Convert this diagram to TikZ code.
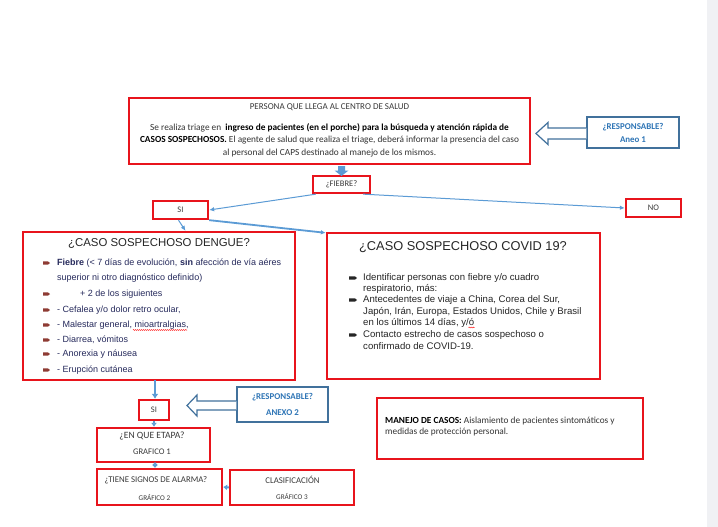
\documentclass[tikz,border=0pt]{standalone}
\usepackage{fontspec}
\setmainfont{Carlito}
\newfontfamily\arial{Liberation Sans}
\usetikzlibrary{arrows.meta,decorations.pathmorphing}
\definecolor{redb}{HTML}{E8141C}
\definecolor{bluel}{HTML}{5B9BD5}
\definecolor{blueo}{HTML}{41719C}
\definecolor{bluet}{HTML}{2E75B6}
\definecolor{navy}{HTML}{262A5C}
\definecolor{bulletred}{HTML}{8E3B34}
\definecolor{stripgray}{HTML}{F0F1F4}
\definecolor{txt}{HTML}{3A3A3A}
\begin{document}
\begin{tikzpicture}[x=1pt,y=-1pt,
  redbox/.style={draw=redb,line width=2.3pt,inner sep=0pt,fill=white},
  bluebox/.style={draw=blueo,line width=1.2pt,inner sep=0pt,fill=white},
  blockarrow/.style={draw=blueo,line width=1.2pt,fill=white,line join=miter},
  conn/.style={draw=bluel,line width=1pt,-{Latex[length=5pt,width=4.5pt]}},
  thickconn/.style={draw=bluel,line width=2.4pt,-{Latex[length=5pt,width=7pt]}},
  smalltxt/.style={inner sep=0pt,text=txt,font=\fontsize{8.5}{9}\selectfont},
  resp/.style={inner sep=0pt,text=bluet,font=\bfseries\fontsize{8.9}{10}\selectfont},
  dline/.style={inner sep=0pt,anchor=west,text=navy,font=\arial\fontsize{9}{10}\selectfont,text height=0.72em,text depth=0.2em},
  cline/.style={inner sep=0pt,anchor=west,text=black!85,font=\arial\fontsize{9.6}{10}\selectfont,text height=0.72em,text depth=0.2em},
  squiggle/.style={draw=red,line width=0.5pt,decorate,decoration={snake,amplitude=0.5pt,segment length=2pt}}
]
\useasboundingbox (0,0) rectangle (718,527);
\fill[white] (0,0) rectangle (718,527);
\fill[stripgray] (707,0) rectangle (718,527);

% ---- top box ----
\node[redbox,minimum width=401pt,minimum height=66pt] (top) at (329.5,131) {};
\node[smalltxt,font=\fontsize{9}{10}\selectfont] (toptitle) at (329.5,107) {PERSONA QUE LLEGA AL CENTRO DE SALUD};
\node[inner sep=0pt,align=center,text=black!80,font=\fontsize{9.3}{12.5}\selectfont] (topbody) at (329.5,140)
 {Se realiza triage en \ \textbf{\color{black}ingreso de pacientes (en el porche) para la búsqueda y atención rápida de}\\
  \textbf{\color{black}CASOS SOSPECHOSOS.} El agente de salud que realiza el triage, deberá informar la presencia del caso\\
  al personal del CAPS destinado al manejo de los mismos.};

% ---- responsable anexo 1 ----
\node[bluebox,minimum width=92pt,minimum height=31pt] (resp1) at (633,132.5) {};
\node[resp,align=center,font=\bfseries\fontsize{8.9}{13}\selectfont] (resp1t) at (resp1.center) {¿RESPONSABLE?\\Aneo 1};
\draw[blockarrow] (resp1.west |- 0,128) -- (548,128) -- (548,122.5) -- (536,133.5) -- (548,144.5) -- (548,139) -- (resp1.west |- 0,139);

% ---- fiebre ----
\node[redbox,minimum width=57pt,minimum height=17pt,smalltxt] (fiebre) at (341.5,184.5) {¿FIEBRE?};
\fill[bluel] (338,166) -- (345,166) -- (345,170.5) -- (348.5,170.5) -- (341.5,176) -- (334.5,170.5) -- (338,170.5) -- cycle;

% ---- si / no ----
\node[redbox,minimum width=55pt,minimum height=18pt,smalltxt] (si1) at (180.5,210) {SI};
\node[redbox,minimum width=55pt,minimum height=18pt,smalltxt] (no) at (653.5,208) {NO};

% ---- dengue ----
\node[redbox,minimum width=272pt,minimum height=148pt] (dengue) at (159,306) {};
\node[inner sep=0pt,text=black!85,font=\arial\fontsize{11.4}{13}\selectfont] (dtitle) at (159,243) {¿CASO SOSPECHOSO DENGUE?};
\foreach \yy in {263,294,310,325,340,354,370}{
  \fill[bulletred] (43,\yy-1.6) -- (48,\yy-1.6) -- (50,\yy) -- (48,\yy+1.6) -- (43,\yy+1.6) -- cycle;
}
\node[dline] (d1) at (57,263) {\textbf{Fiebre} (< 7 días de evolución, \textbf{sin} afección de vía aéres};
\node[dline] (d2) at (57,278) {superior ni otro diagnóstico definido)};
\node[dline] (d3) at (80,294) {+ 2 de los siguientes};
\node[dline] (d4) at (57,310) {- Cefalea y/o dolor retro ocular,};
\node[dline] (d5) at (57,325) {- Malestar general, mioartralgias,};
\node[dline] (d6) at (57,340) {- Diarrea, vómitos};
\node[dline] (d7) at (57,354) {- Anorexia y náusea};
\node[dline] (d8) at (57,370) {- Erupción cutánea};
\draw[squiggle] (133,330) -- (187,330);

% ---- covid ----
\node[redbox,minimum width=273pt,minimum height=146pt] (covid) at (463.5,306) {};
\node[inner sep=0pt,text=black!85,font=\arial\fontsize{12.8}{14}\selectfont] (ctitle) at (463,247) {¿CASO SOSPECHOSO COVID 19?};
\foreach \yy in {278,300,335}{
  \fill[black!85] (349,\yy-1.6) -- (355,\yy-1.6) -- (357,\yy) -- (355,\yy+1.6) -- (349,\yy+1.6) -- cycle;
}
\node[cline] (c1) at (363,278) {Identificar personas con fiebre y/o cuadro};
\node[cline] (c2) at (363,288.5) {respiratorio, más:};
\node[cline] (c3) at (363,300) {Antecedentes de viaje a China, Corea del Sur,};
\node[cline] (c4) at (363,311.5) {Japón, Irán, Europa, Estados Unidos, Chile y Brasil};
\node[cline] (c5) at (363,322.5) {en los últimos 14 días, y/ó};
\node[cline] (c6) at (363,335) {Contacto estrecho de casos sospechoso o};
\node[cline] (c7) at (363,347) {confirmado de COVID-19.};
\draw[squiggle] (468.5,327.5) -- (474.5,327.5);

% ---- lower left chain ----
\node[redbox,minimum width=30pt,minimum height=20pt,smalltxt] (si2) at (154,410) {SI};
\node[bluebox,minimum width=91pt,minimum height=35pt] (resp2) at (282.5,404.5) {};
\node[resp,align=center,font=\bfseries\fontsize{8.9}{16}\selectfont] (resp2t) at (resp2.center) {¿RESPONSABLE?\\ANEXO 2};
\draw[blockarrow] (resp2.west |- 0,401) -- (197,401) -- (197,395) -- (187,405.5) -- (197,416) -- (197,410) -- (resp2.west |- 0,410);

\node[redbox,minimum width=113pt,minimum height=34pt] (etapa) at (153.5,445) {};
\node[smalltxt,font=\fontsize{9.6}{10}\selectfont] (etapa1) at (152,436) {¿EN QUE ETAPA?};
\node[smalltxt,font=\fontsize{8.6}{10}\selectfont] (etapa2) at (152,451.5) {GRAFICO 1};
\node[redbox,minimum width=125pt,minimum height=36pt] (signos) at (159.5,487) {};
\node[smalltxt,font=\fontsize{8.8}{10}\selectfont] (signos1) at (156,480) {¿TIENE SIGNOS DE ALARMA?};
\node[smalltxt,font=\fontsize{7.2}{10}\selectfont] (signos2) at (154.5,497.5) {GRÁFICO 2};
\node[redbox,minimum width=124pt,minimum height=35pt] (clasif) at (292,487.5) {};
\node[smalltxt,font=\fontsize{8.8}{10}\selectfont] (clasif1) at (292.5,479.5) {CLASIFICACIÓN};
\node[smalltxt,font=\fontsize{7.2}{10}\selectfont] (clasif2) at (292,496.5) {GRÁFICO 3};

% ---- manejo ----
\node[redbox,minimum width=266pt,minimum height=61pt] (manejo) at (510,428.5) {};
\node[inner sep=0pt,anchor=north west,align=left,text=black!80,font=\fontsize{9.3}{11}\selectfont] (manejot) at (385,417)
 {\textbf{\color{black}MANEJO DE CASOS:} Aislamiento de pacientes sintomáticos y\\ medidas de protección personal.};

% ---- connectors ----
\draw[conn] ([xshift=4pt]fiebre.south west) -- (si1.east);
\draw[conn] ([xshift=-8pt]fiebre.south east) -- (no.west);
\draw[conn] ([xshift=-2pt]si1.south) -- ([xshift=5pt]si1.south |- dengue.north);
\draw[conn,line width=1.8pt] (si1.south east) -- ([yshift=-1pt]covid.north west);
\draw[thickconn] (155,380) -- (si2.north -| 155,0);
\draw[thickconn,line width=2pt,-{Latex[length=4pt,width=6pt]}] (si2.south) -- (etapa.north -| si2.south);
\draw[thickconn,line width=2pt,{Latex[length=3pt,width=6pt]}-{Latex[length=3pt,width=6pt]}] (155,462) -- (signos.north -| 155,0);
\draw[thickconn,line width=2pt,-{Latex[length=4pt,width=6pt]}] (clasif.west) -- (signos.east);
\end{tikzpicture}
\end{document}
